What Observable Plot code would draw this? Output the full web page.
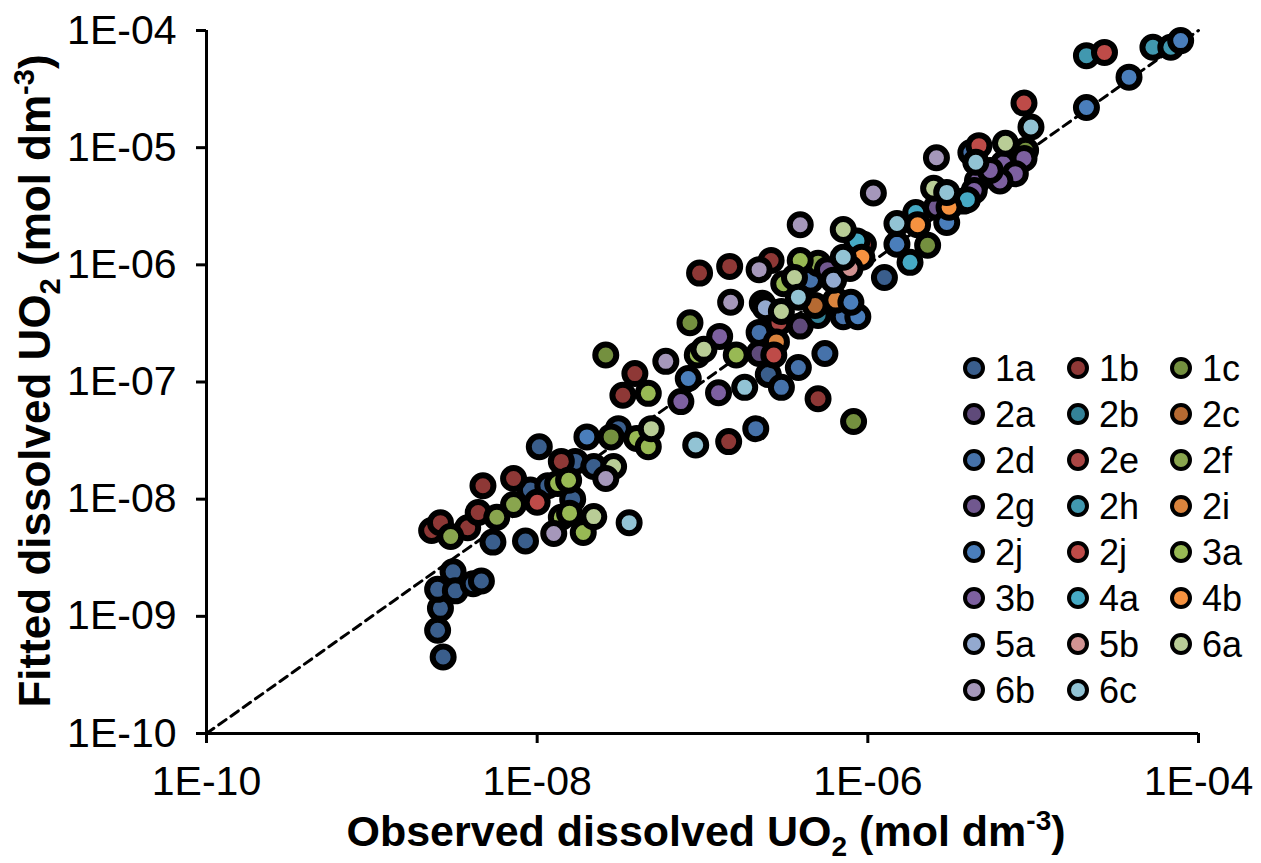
<!DOCTYPE html>
<html><head><meta charset="utf-8">
<script src="https://cdn.jsdelivr.net/npm/d3@7"></script>
<script src="https://cdn.jsdelivr.net/npm/@observablehq/plot@0.6"></script>
<style>
html,body{margin:0;padding:0;background:#fff;}
#chart{width:1261px;height:863px;}
</style></head><body><div id="chart"></div>
<script>
// Series labels and colours (legend order)
const seriesNames = ["1a","1b","1c","2a","2b","2c","2d","2e","2f","2g","2h","2i","2j","2j","3a","3b","4a","4b","5a","5b","6a","6b","6c"];
const seriesColors = ["#3A5E8C","#8E3836","#74903F","#5F4A7A","#348298","#B66A32","#4672AA","#AA4644","#89A54E","#71588F","#4198AF","#DB843D","#4A7EBB","#BE4B48","#98B954","#7D60A0","#46AAC5","#F69240","#93A9CF","#D19392","#B9CD96","#A597BA","#92C3D4"];

// [observed, fitted] in mol dm-3
const s1a = [[2.7e-9,4.5e-10],[2.5e-9,7.6e-10],[2.6e-9,1.17e-9],[2.5e-9,1.7e-9],[3.1e-9,2.4e-9],[3.2e-9,1.65e-9],[4.1e-9,1.9e-9],[4.6e-9,2.0e-9],[5.4e-9,4.3e-9],[8.5e-9,4.4e-9],[1.03e-8,2.8e-8],[9.1e-9,1.2e-8],[1.16e-8,1.3e-8],[1.64e-8,1.0e-8],[1.7e-8,2.1e-8],[2.2e-8,1.9e-8],[3.1e-8,4.0e-8],[2.5e-7,1.16e-7],[1.26e-6,7.8e-7]];
const s1b = [[2.3e-9,5.4e-9],[2.6e-9,6.3e-9],[3.8e-9,5.7e-9],[4.4e-9,7.7e-9],[4.7e-9,1.3e-8],[7.2e-9,1.5e-8],[1.4e-8,2.1e-8],[3.3e-8,7.7e-8],[3.9e-8,1.18e-7],[9.6e-8,8.5e-7],[1.46e-7,9.7e-7],[2.6e-7,1.09e-6],[5.0e-7,7.2e-8],[1.44e-7,3.1e-8]];
const s1c = [[2.6e-8,1.7e-7],[8.4e-8,3.2e-7],[2.8e-8,3.4e-8],[8.2e-7,4.6e-8],[2.3e-6,1.47e-6],[9.0e-6,9.5e-6]];
const s2a = [[2.2e-7,1.75e-7],[3.9e-7,3.0e-7]];
const s2b = [[5.0e-7,3.7e-7]];
const s2c = [[4.8e-7,4.5e-7]];
const s2d = [[2.1e-7,4.0e-8],[3.0e-7,9.0e-8],[3.8e-7,1.33e-7],[5.5e-7,1.75e-7],[7.1e-7,3.6e-7],[2.2e-7,2.65e-7],[4.5e-7,7.4e-7],[4.2e-6,9.1e-6]];
const s2e = [[2.3e-7,4.7e-7],[2.9e-7,3.2e-7],[9.4e-7,1.5e-6]];
const s2f = [[3.0e-9,4.8e-9],[5.7e-9,7.0e-9],[7.2e-9,9.0e-9],[5.0e-7,1.03e-6]];
const s2g = [[2.6e-6,3.1e-6],[5.7e-7,9.1e-7]];
const s2h = [[2.1e-5,6.1e-5],[5.3e-5,7.2e-5],[6.8e-5,7.2e-5]];
const s2i = [[6.4e-7,5.0e-7],[2.8e-7,2.2e-7]];
const s2jBlue = [[2.0e-8,3.4e-8],[8.2e-8,1.07e-7],[8.7e-7,3.6e-7],[7.9e-7,4.8e-7],[1.5e-6,1.5e-6],[3.0e-6,2.3e-6],[2.1e-5,2.2e-5],[3.8e-5,4.0e-5],[7.8e-5,8.2e-5]];
const s2jRed = [[1.0e-8,9.4e-9],[2.7e-7,1.7e-7],[4.7e-6,1.04e-5],[8.8e-6,2.4e-5],[2.7e-5,6.5e-5]];
const s3a = [[1.33e-8,1.36e-8],[1.55e-8,1.45e-8],[1.4e-8,7.0e-9],[1.57e-8,7.6e-9],[1.9e-8,5.2e-9],[4.0e-8,3.3e-8],[4.7e-8,2.8e-8],[4.7e-8,8.0e-8],[1.6e-7,1.7e-7],[9.3e-8,1.7e-7],[3.9e-7,1.09e-6],[3.1e-7,6.9e-7]];
const s3b = [[7.4e-8,6.8e-8],[1.27e-7,2.45e-7],[1.25e-7,8.1e-8],[6.6e-6,7.3e-6],[8.8e-6,8.1e-6],[7.8e-6,6.0e-6],[6.3e-6,5.2e-6],[4.6e-6,5.2e-6],[4.4e-6,4.3e-6],[3.8e-6,3.5e-6],[5.5e-6,6.4e-6]];
const s4a = [[8.6e-7,1.6e-6],[4.0e-6,3.6e-6],[1.95e-6,2.8e-6],[1.8e-6,1.05e-6]];
const s4b = [[9.2e-7,1.16e-6],[3.1e-6,3.1e-6],[2.0e-6,2.2e-6]];
const s5a = [[2.4e-7,4.3e-7],[6.2e-7,7.4e-7]];
const s5b = [[7.8e-7,9.3e-7]];
const s6a = [[2.2e-8,7.1e-9],[2.9e-8,1.9e-8],[4.9e-8,4.0e-8],[1.02e-7,1.9e-7],[7.1e-7,2.0e-6],[3.6e-7,7.8e-7],[3.0e-7,4.0e-7],[2.5e-6,4.5e-6],[6.8e-6,1.09e-5]];
const s6b = [[1.26e-8,5.1e-9],[2.6e-8,1.5e-8],[6.0e-8,1.5e-7],[1.48e-7,4.8e-7],[2.2e-7,9.1e-7],[3.9e-7,2.2e-6],[1.08e-6,4.1e-6],[2.6e-6,8.2e-6]];
const s6c = [[3.6e-8,6.3e-9],[9.1e-8,2.9e-8],[1.8e-7,9.0e-8],[3.8e-7,5.3e-7],[7.1e-7,1.16e-6],[1.5e-6,2.25e-6],[3.0e-6,4.15e-6],[4.5e-6,7.5e-6],[9.7e-6,1.5e-5]];

const xTickValues = [1e-10, 1e-8, 1e-6, 1e-4];
const yTickValues = [1e-10, 1e-9, 1e-8, 1e-7, 1e-6, 1e-5, 1e-4];
const oneToOne = [[1e-10, 1e-10], [1e-4, 1e-4]];

const seriesData = [s1a,s1b,s1c,s2a,s2b,s2c,s2d,s2e,s2f,s2g,s2h,s2i,s2jBlue,s2jRed,s3a,s3b,s4a,s4b,s5a,s5b,s6a,s6b,s6c];
const rows = seriesData.flatMap((arr, i) => arr.map(([o, f]) => ({obs: o, fit: f, color: seriesColors[i], series: seriesNames[i]})));

const fmt = d => "1E-" + String(Math.round(-Math.log10(d))).padStart(2, "0");
const FONT = "'Liberation Sans', Arial, sans-serif";

const plot = Plot.plot({
  width: 1261, height: 863,
  marginLeft: 206, marginRight: 63, marginTop: 30, marginBottom: 130,
  x: {type: "log", domain: [1e-10, 1e-4]},
  y: {type: "log", domain: [1e-10, 1e-4]},
  color: {type: "identity"},
  style: {fontFamily: FONT, background: "white", color: "black", overflow: "visible"},
  marks: [
    Plot.line(oneToOne, {x: d => d[0], y: d => d[1], stroke: "black", strokeWidth: 3, strokeDasharray: "9,6"}),
    Plot.dot(rows, {x: "obs", y: "fit", r: 10.5, fill: "color", stroke: "black", strokeWidth: 6}),
    Plot.ruleX([1e-10], {stroke: "black", strokeWidth: 3}),
    Plot.ruleY([1e-10], {stroke: "black", strokeWidth: 3}),
    Plot.axisX(xTickValues, {anchor: "bottom", tickSize: 10, tickPadding: 22, fontSize: 41, tickFormat: fmt, label: null, strokeWidth: 3}),
    Plot.axisY(yTickValues, {anchor: "left", tickSize: 10, tickPadding: 20, fontSize: 41, tickFormat: fmt, label: null, strokeWidth: 3})
  ]
});
document.getElementById("chart").appendChild(plot);

const svg = d3.select(plot);
// Axis titles
const xt = svg.append("text").attr("x", 706).attr("y", 846).attr("text-anchor", "middle")
  .attr("font-family", FONT).attr("font-weight", "bold").attr("font-size", 43).attr("fill", "black");
xt.append("tspan").text("Observed dissolved UO");
xt.append("tspan").attr("font-size", 28).attr("dy", 10).text("2");
xt.append("tspan").attr("dy", -10).text(" (mol dm");
xt.append("tspan").attr("font-size", 28).attr("dy", -16).text("-3");
xt.append("tspan").attr("dy", 16).text(")");

const yt = svg.append("text").attr("transform", "translate(50,381) rotate(-90)").attr("text-anchor", "middle")
  .attr("font-family", FONT).attr("font-weight", "bold").attr("font-size", 44).attr("fill", "black");
yt.append("tspan").text("Fitted dissolved UO");
yt.append("tspan").attr("font-size", 29).attr("dy", 10).text("2");
yt.append("tspan").attr("dy", -10).text(" (mol dm");
yt.append("tspan").attr("font-size", 29).attr("dy", -16).text("-3");
yt.append("tspan").attr("dy", 16).text(")");

// Legend (3 columns, row-major)
const legendCols = [974, 1078, 1181];
const legendTop = 368, legendStep = 46;
const lg = svg.append("g");
seriesNames.forEach((name, i) => {
  const cx = legendCols[i % 3], cy = legendTop + Math.floor(i / 3) * legendStep;
  lg.append("circle").attr("cx", cx).attr("cy", cy).attr("r", 9)
    .attr("fill", seriesColors[i]).attr("stroke", "black").attr("stroke-width", 4);
  lg.append("text").attr("x", cx + 21).attr("y", cy).attr("dy", "0.36em").attr("text-anchor", "start")
    .attr("font-family", FONT).attr("font-size", 36).attr("fill", "black").text(name);
});
</script>
</body></html>
